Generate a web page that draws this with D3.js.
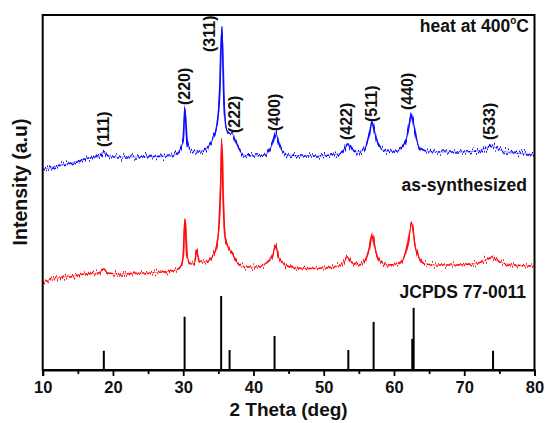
<!DOCTYPE html>
<html>
<head>
<meta charset="utf-8">
<script src="https://cdn.jsdelivr.net/npm/d3@7"></script>
<style>
  html, body { margin: 0; padding: 0; background: #ffffff; }
  svg { display: block; }
  text { font-family: "Liberation Sans", Arial, Helvetica, sans-serif; font-weight: bold; fill: #111; }
</style>
</head>
<body>
<svg id="chart" width="545" height="423"></svg>
<script>
// XRD patterns, 2θ in degrees, intensity in arbitrary units (stacked)
const heatedTheta = [10.0, 11.0, 12.0, 13.5, 15.0, 16.5, 17.8, 18.3, 18.7, 19.1, 20.0, 22.0, 24.0, 26.0, 28.0, 29.0, 29.6, 30.0, 30.25, 30.55, 31.0, 31.5, 32.5, 33.5, 34.2, 34.8, 35.2, 35.5, 35.8, 36.1, 36.5, 37.0, 37.4, 38.0, 38.6, 40.0, 41.5, 42.3, 42.8, 43.15, 43.6, 44.2, 45.0, 47.0, 49.0, 51.0, 52.5, 53.0, 53.4, 53.9, 54.6, 55.4, 56.0, 56.5, 56.9, 57.3, 57.8, 58.4, 59.5, 60.5, 61.2, 61.8, 62.2, 62.5, 62.8, 63.3, 63.9, 65.0, 67.0, 69.0, 71.0, 72.5, 73.4, 73.9, 74.5, 75.5, 77.0, 79.0, 80.0];
const heatedIntensity = [201, 202, 204, 206, 209, 212, 213, 215, 218.5, 215, 213, 213, 213, 213.5, 214, 216, 221, 230, 262, 228, 220, 219, 219, 223, 231, 245, 280, 343, 268, 242, 237, 236, 230, 220, 215, 214, 215, 220, 228, 238, 227, 218, 215, 214, 214, 215, 217, 222, 227, 222, 218, 219, 224, 236, 248, 236, 225, 220, 218.5, 219, 223, 232, 247, 257, 246, 228, 221, 218.5, 218, 218, 218.5, 220, 223, 225, 222, 219, 217, 216, 215];

const synthTheta = [10.0, 11.0, 12.0, 14.0, 16.0, 18.0, 18.7, 19.3, 21.0, 24.0, 27.0, 29.0, 29.7, 30.0, 30.25, 30.55, 31.0, 31.6, 31.9, 32.3, 33.0, 34.0, 34.7, 35.1, 35.35, 35.5, 35.7, 36.0, 36.4, 37.0, 38.0, 39.0, 40.5, 42.0, 42.7, 43.15, 43.6, 44.5, 46.0, 48.0, 50.0, 52.0, 52.9, 53.4, 53.9, 55.0, 55.9, 56.5, 56.9, 57.3, 57.9, 59.0, 60.5, 61.4, 61.9, 62.5, 63.0, 63.6, 64.5, 66.0, 68.0, 70.0, 72.0, 73.4, 73.9, 74.5, 76.0, 78.0, 80.0];
const synthIntensity = [88, 90, 92, 94, 96, 97, 101, 97, 96, 97, 98, 100, 104, 114, 151, 113, 106, 107, 120, 108, 108, 112, 122, 145, 190, 230, 170, 132, 123, 116, 105, 103, 103, 108, 114, 125, 112, 105, 102, 101.5, 102, 104, 108, 113, 108, 105, 110, 122, 137, 122, 110, 105, 106, 112, 122, 145, 124, 112, 106, 105, 105, 105.5, 107, 111, 113, 110, 106, 104.5, 104];

// Reference pattern JCPDS 77-0011 (relative intensity, %)
const refTheta = [18.7, 30.2, 35.4, 36.6, 43.0, 53.5, 57.1, 62.6, 62.8, 74.1];
const refIntensity = [26, 72, 100, 27, 46, 27, 65, 42, 84, 26];

// Miller indices marked on the heated pattern, with label anchors (2θ, a.u.)
const hklLabels = ["(111)", "(220)", "(311)", "(222)", "(400)", "(422)", "(511)", "(440)", "(533)"];
const hklTheta = [18.85, 30.35, 33.9, 37.45, 43.15, 53.35, 56.9, 62.1, 73.7];
const hklBase = [223, 265, 318, 237, 239, 230, 248, 260, 230];

const xTicks = [10, 20, 30, 40, 50, 60, 70, 80];
const xMinorTicks = [15, 25, 35, 45, 55, 65, 75];
const patternNames = ["heat at 400", "as-synthesized", "JCPDS 77-0011"];

const svg = d3.select("#chart");
const margin = { left: 42.7, right: 534.5, top: 15, bottom: 370 };

const x = d3.scaleLinear().domain([10, 80]).range([margin.left, margin.right]);
const y = d3.scaleLinear().domain([0, 355]).range([margin.bottom, margin.top]);
const yRef = d3.scaleLinear().domain([0, 100]).range([margin.bottom, margin.bottom - 74]);

// counting-noise texture: each column of a trace is shifted vertically by a fine noise field
const defs = svg.append("defs");
const jitter = defs.append("filter").attr("id", "jitter")
  .attr("x", "-2%").attr("y", "-10%").attr("width", "104%").attr("height", "120%");
jitter.append("feTurbulence")
  .attr("type", "fractalNoise").attr("baseFrequency", "0.9 0.015")
  .attr("numOctaves", 2).attr("seed", 7).attr("result", "noise");
// hold the horizontal channel at 0.5 so only vertical shifts happen
jitter.append("feColorMatrix")
  .attr("in", "noise").attr("type", "matrix")
  .attr("values", "0 0 0 0 0.5  0 1 0 0 0  0 0 1 0 0  0 0 0 0 1")
  .attr("result", "vnoise");
jitter.append("feDisplacementMap")
  .attr("in", "SourceGraphic").attr("in2", "vnoise")
  .attr("scale", 12).attr("xChannelSelector", "R").attr("yChannelSelector", "G");

const line = d3.line()
  .x(d => x(d[0]))
  .y(d => y(d[1]))
  .curve(d3.curveMonotoneX);

function drawPattern(thetas, values, color) {
  const pts = thetas.map((t, i) => [t, values[i]]);
  const g = svg.append("g");
  g.append("path").datum(pts)
    .attr("d", line)
    .attr("fill", "none")
    .attr("stroke", color)
    .attr("stroke-opacity", 0.5)
    .attr("stroke-width", 1.2);
  g.append("path").datum(pts)
    .attr("d", line)
    .attr("fill", "none")
    .attr("stroke", color)
    .attr("stroke-width", 1.7)
    .attr("filter", "url(#jitter)");
}

drawPattern(synthTheta, synthIntensity, "#ff0a0a");
drawPattern(heatedTheta, heatedIntensity, "#1010ff");

// reference stick pattern
svg.append("g").selectAll("line")
  .data(refTheta.map((t, i) => [t, refIntensity[i]]))
  .join("line")
  .attr("x1", d => x(d[0])).attr("x2", d => x(d[0]))
  .attr("y1", yRef(0)).attr("y2", d => yRef(d[1]))
  .attr("stroke", "#000").attr("stroke-width", 2);

// frame
svg.append("rect")
  .attr("x", margin.left).attr("y", margin.top)
  .attr("width", margin.right - margin.left)
  .attr("height", margin.bottom - margin.top)
  .attr("fill", "none").attr("stroke", "#000").attr("stroke-width", 2);

// x axis
const xAxis = d3.axisBottom(x).tickValues(xTicks).tickSize(6).tickPadding(5).tickFormat(d3.format("d"));
const gx = svg.append("g").attr("transform", `translate(0,${margin.bottom})`).call(xAxis);
gx.select(".domain").attr("stroke-width", 2);
gx.selectAll(".tick line").attr("stroke-width", 1.8);
gx.selectAll(".tick text").attr("font-size", 16.5).attr("font-weight", "bold")
  .attr("font-family", "'Liberation Sans', Arial, sans-serif").attr("fill", "#111");
const xMinor = d3.axisBottom(x).tickValues(xMinorTicks).tickSize(4).tickFormat("");
const gxm = svg.append("g").attr("transform", `translate(0,${margin.bottom})`).call(xMinor);
gxm.select(".domain").remove();
gxm.selectAll(".tick line").attr("stroke-width", 1.8);

// axis titles
svg.append("text")
  .attr("x", (margin.left + margin.right) / 2).attr("y", 416)
  .attr("text-anchor", "middle").attr("font-size", 19)
  .text("2 Theta (deg)");
svg.append("text")
  .attr("transform", "translate(27,182) rotate(-90)")
  .attr("text-anchor", "middle").attr("font-size", 19.5)
  .text("Intensity (a.u)");

// Miller index labels
const fsHkl = 16;
svg.append("g").selectAll("text")
  .data(hklLabels.map((s, i) => ({ s, t: hklTheta[i], b: hklBase[i] })))
  .join("text")
  .attr("transform", d => `translate(${x(d.t) + 0.27 * fsHkl},${y(d.b)}) rotate(-90)`)
  .attr("font-size", fsHkl)
  .text(d => d.s);

// pattern names
const heatLabel = svg.append("text")
  .attr("x", 529).attr("y", 32)
  .attr("text-anchor", "end").attr("font-size", 17.5);
heatLabel.append("tspan").text(patternNames[0]);
heatLabel.append("tspan").attr("font-size", 10).attr("dy", -8).text("o");
heatLabel.append("tspan").attr("dy", 8).text("C");

svg.append("text").attr("x", 527).attr("y", 191)
  .attr("text-anchor", "end").attr("font-size", 17.5).text(patternNames[1]);
svg.append("text").attr("x", 526).attr("y", 298)
  .attr("text-anchor", "end").attr("font-size", 17.5).text(patternNames[2]);
</script>
</body>
</html>
